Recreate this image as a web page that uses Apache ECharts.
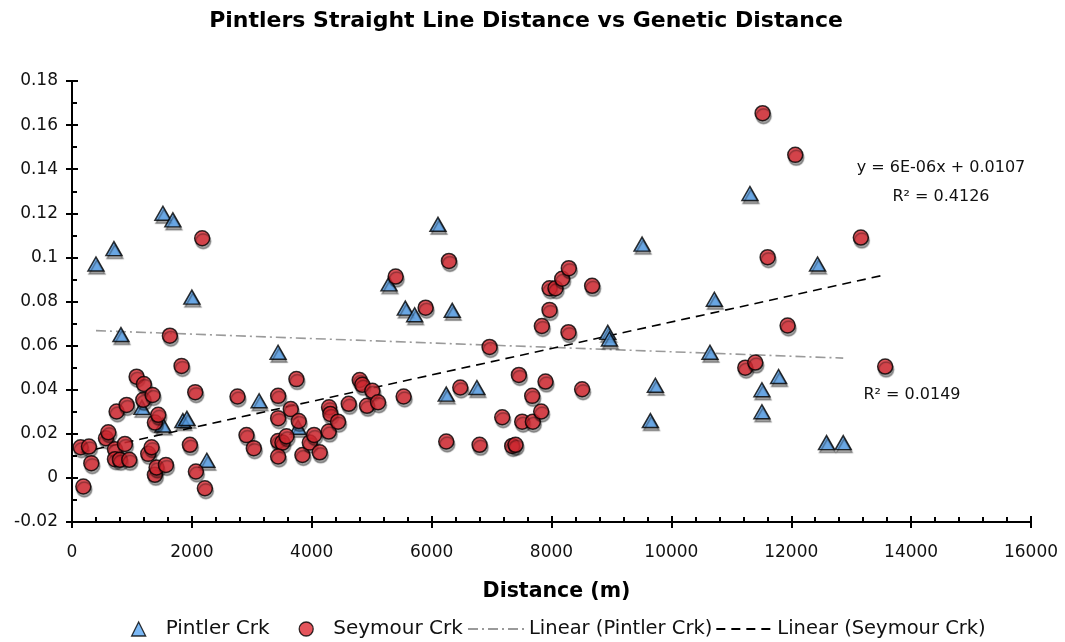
<!DOCTYPE html>
<html>
<head>
<meta charset="utf-8">
<title>Pintlers Straight Line Distance vs Genetic Distance</title>
<script src="https://cdn.jsdelivr.net/npm/echarts@6/dist/echarts.min.js"></script>
<style>
  html, body { margin: 0; padding: 0; background: #fff; }
  #chart { width: 1065px; height: 642px; }
</style>
</head>
<body>
<div id="chart"></div>
<script>
// Pintler Creek samples: straight-line distance (m) and genetic distance
const pintlerX = [400, 700, 817, 1517, 1683, 2000, 1167, 1517, 1850, 1917, 2250, 3122, 3438, 3772,
  5289, 5561, 5717, 6106, 6344, 6244, 6756, 8939, 8967, 9511, 9650, 9733, 10644, 10717,
  11311, 11511, 11511, 11789, 12439, 12589, 12867];
const pintlerY = [0.097, 0.104, 0.065, 0.120, 0.117, 0.082, 0.032, 0.024, 0.026, 0.027, 0.008, 0.035, 0.057, 0.023,
  0.088, 0.077, 0.074, 0.115, 0.076, 0.038, 0.041, 0.066, 0.063, 0.106, 0.026, 0.042, 0.057, 0.081,
  0.129, 0.040, 0.030, 0.046, 0.097, 0.016, 0.016];

// Seymour Creek samples
const seymourX = [144, 283, 189, 322, 567, 606, 717, 717, 744, 800, 883, 911, 956, 1078, 1189, 1200,
  1272, 1328, 1345, 1383, 1383, 1411, 1439, 1567, 1633, 1828, 1967, 2056, 2067, 2172, 2217,
  2761, 2911, 3033, 3439, 3439, 3439, 3511, 3439, 3578, 3650, 3744, 3783, 3844, 3967, 4039,
  4133, 4283, 4289, 4311, 4439, 4617, 4800, 4844, 4922, 5011, 5106, 5400, 5533, 5900, 6244,
  6289, 6478, 6800, 6967, 7178, 7344, 7400, 7456, 7511, 7678, 7689, 7828, 7839, 7900, 7967,
  7967, 8067, 8178, 8283, 8289, 8511, 8678, 11233, 11400, 11522, 11606, 11939, 12067, 13161, 13567];
const seymourY = [0.0139, 0.0142, -0.0039, 0.0067, 0.0180, 0.0207, 0.0130, 0.0085, 0.0301, 0.0082, 0.0154, 0.0331, 0.0082, 0.0459, 0.0354, 0.0426,
  0.0109, 0.0139, 0.0376, 0.0251, 0.0014, 0.0047, 0.0286, 0.0059, 0.0645, 0.0508, 0.0150, 0.0389, 0.0029, 0.1087, -0.0047,
  0.0369, 0.0194, 0.0135, 0.0372, 0.0271, 0.0167, 0.0160, 0.0097, 0.0189, 0.0312, 0.0448, 0.0258, 0.0104, 0.0160, 0.0195,
  0.0116, 0.0210, 0.0320, 0.0290, 0.0255, 0.0336, 0.0444, 0.0422, 0.0327, 0.0395, 0.0343, 0.0913, 0.0369, 0.0772, 0.0165,
  0.0984, 0.0410, 0.0150, 0.0594, 0.0275, 0.0145, 0.0150, 0.0467, 0.0255, 0.0372, 0.0255, 0.0301, 0.0689, 0.0437, 0.0762,
  0.0860, 0.0860, 0.0903, 0.0661, 0.0951, 0.0402, 0.0871, 0.0500, 0.0523, 0.1654, 0.1001, 0.0691, 0.1465, 0.1090, 0.0505];

// Trend lines: Seymour as stated by its equation, Pintler as drawn (slope, intercept)
const seymourTrend = [6e-6, 0.0107];
const pintlerTrend = [-1.0e-6, 0.0672];
const seymourR2 = '0.4126';
const pintlerR2 = '0.0149';

// Axis tick values
const xTicks = [0, 2000, 4000, 6000, 8000, 10000, 12000, 14000, 16000];
const yTicks = [-0.02, 0, 0.02, 0.04, 0.06, 0.08, 0.1, 0.12, 0.14, 0.16, 0.18];

const FONT = "'DejaVu Sans', Verdana, sans-serif";

function zip(xs, ys) { return xs.map((x, i) => [x, ys[i]]); }

// A trend line runs across the x-range of its own series
function trend(xs, coef) {
  const lo = Math.min(...xs), hi = Math.max(...xs);
  return [[lo, coef[0] * lo + coef[1]], [hi, coef[0] * hi + coef[1]]];
}

const shadow = { shadowColor: 'rgba(0,0,0,0.45)', shadowBlur: 1, shadowOffsetX: 1, shadowOffsetY: 3 };

const xMin = xTicks[0], xMax = xTicks[xTicks.length - 1];
const yMin = yTicks[0], yMax = yTicks[yTicks.length - 1];
const xStep = xTicks[1] - xTicks[0], yStep = +(yTicks[1] - yTicks[0]).toFixed(4);

const axisLine = { show: true, onZero: false, lineStyle: { color: '#000', width: 2 } };
const tickStyle = { color: '#000', width: 2 };

const chart = echarts.init(document.getElementById('chart'), null, { renderer: 'canvas' });
chart.setOption({
  backgroundColor: '#fff',
  animation: false,
  title: {
    text: 'Pintlers Straight Line Distance vs Genetic Distance',
    left: 521,
    textAlign: 'center',
    top: 5,
    textStyle: { fontFamily: FONT, fontWeight: 'bold', fontSize: 22, color: '#000' }
  },
  grid: { left: 72, right: 34, top: 81, bottom: 120, containLabel: false },
  xAxis: [
    {
      type: 'value', min: xMin, max: xMax, interval: xStep,
      name: 'Distance (m)', nameLocation: 'middle', nameGap: 59,
      nameTextStyle: { fontFamily: FONT, fontWeight: 'bold', fontSize: 20.5, color: '#000', padding: [0, 0, 0, 10] },
      axisLine,
      axisTick: { show: true, inside: false, length: 6, lineStyle: tickStyle },
      axisLabel: { fontFamily: FONT, fontSize: 17, color: '#111', margin: 22, formatter: v => String(v) },
      splitLine: { show: false }
    },
    {
      type: 'value', min: xMin, max: xMax, interval: xStep, position: 'bottom', offset: 0,
      axisLine,
      axisTick: { show: true, inside: true, length: 6, lineStyle: tickStyle },
      minorTick: { show: true, splitNumber: 5, length: 5, lineStyle: tickStyle },
      axisLabel: { show: false },
      splitLine: { show: false }
    }
  ],
  yAxis: [
    {
      type: 'value', min: yMin, max: yMax, interval: yStep,
      axisLine,
      axisTick: { show: true, inside: false, length: 6, lineStyle: tickStyle },
      axisLabel: { fontFamily: FONT, fontSize: 17, color: '#111', margin: 14,
        formatter: v => String(+v.toFixed(4)) },
      splitLine: { show: false }
    },
    {
      type: 'value', min: yMin, max: yMax, interval: yStep, position: 'left', offset: 0,
      axisLine,
      axisTick: { show: true, inside: true, length: 6, lineStyle: tickStyle },
      minorTick: { show: true, splitNumber: 2, length: 5, lineStyle: tickStyle },
      axisLabel: { show: false },
      splitLine: { show: false }
    }
  ],
  legend: [
    {
      data: [
        { name: 'Pintler Crk', icon: 'triangle' },
        { name: 'Seymour Crk', icon: 'circle' }
      ],
      left: 126, top: 614, itemWidth: 14, itemHeight: 14, itemGap: 29,
      itemStyle: { borderWidth: 1.3, borderColor: '#000' },
      textStyle: { fontFamily: FONT, fontSize: 20, color: '#111', padding: [0, 0, 0, 15] }
    },
    {
      data: ['Linear (Pintler Crk)', 'Linear (Seymour Crk)'],
      left: 462, top: 614, itemWidth: 60, itemHeight: 14, itemGap: 3,
      itemStyle: { opacity: 0 },
      textStyle: { fontFamily: FONT, fontSize: 19.5, color: '#111', padding: [0, 0, 0, -4] }
    }
  ],
  graphic: [
    { type: 'text', x: 941, y: 168, style: { text: 'y = 6E-06x + 0.0107', font: '16px ' + FONT, fill: '#111', align: 'center', verticalAlign: 'middle' } },
    { type: 'text', x: 941, y: 197, style: { text: 'R² = ' + seymourR2, font: '16px ' + FONT, fill: '#111', align: 'center', verticalAlign: 'middle' } },
    { type: 'text', x: 912, y: 395, style: { text: 'R² = ' + pintlerR2, font: '16px ' + FONT, fill: '#111', align: 'center', verticalAlign: 'middle' } }
  ],
  series: [
    {
      name: 'Linear (Pintler Crk)', type: 'line', symbol: 'none', silent: true, z: 1,
      data: trend(pintlerX, pintlerTrend),
      lineStyle: { color: '#9a9a9a', width: 1.6, type: [10, 4, 2, 4] },
      itemStyle: { color: '#9a9a9a' }
    },
    {
      name: 'Linear (Seymour Crk)', type: 'line', symbol: 'none', silent: true, z: 1,
      data: trend(seymourX, seymourTrend),
      lineStyle: { color: '#000', width: 1.6, type: [9, 6] },
      itemStyle: { color: '#000' }
    },
    {
      name: 'Pintler Crk', type: 'scatter', symbol: 'triangle', symbolSize: [16, 14], z: 3,
      data: zip(pintlerX, pintlerY),
      itemStyle: Object.assign({ color: '#5aa6f2', borderColor: '#000', borderWidth: 1.5 }, shadow)
    },
    {
      name: 'Seymour Crk', type: 'scatter', symbol: 'circle', symbolSize: 15, z: 3,
      data: zip(seymourX, seymourY),
      itemStyle: Object.assign({ color: '#df2b33', borderColor: '#000', borderWidth: 1.5 }, shadow)
    }
  ]
});
</script>
</body>
</html>
